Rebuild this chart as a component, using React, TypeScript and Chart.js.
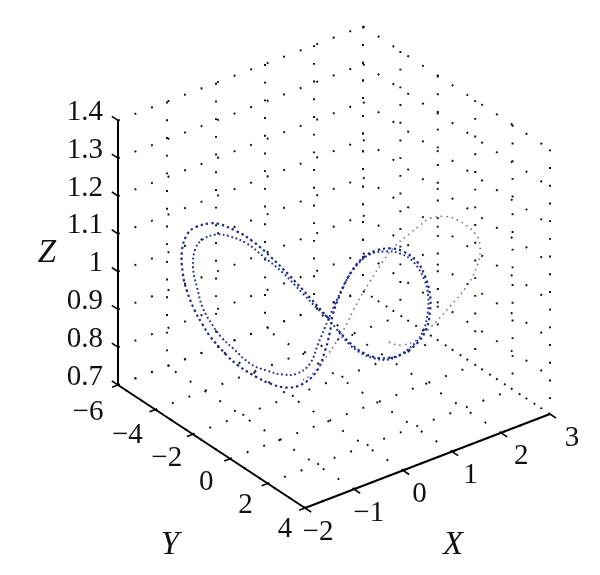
import React, { useEffect, useRef } from "react";
import { Chart, registerables } from "chart.js";

Chart.register(...registerables);

type P = [number, number, number];

// Axis ticks
const xTicks = [-2, -1, 0, 1, 2, 3];
const yTicks = [-6, -4, -2, 0, 2, 4];
const zTicks = [0.7, 0.8, 0.9, 1, 1.1, 1.2, 1.3, 1.4];

// Trajectory as [X, Y, Z]
const faintStart: P[] = [
  [0.11, 2.95, 1], [0.13, 3.14, 1], [0.22, 3.36, 1], [0.47, 3.41, 1], [0.98, 2.98, 1],
  [1.61, 2.31, 1], [2.22, 1.61, 1], [2.74, 0.78, 1], [2.42, 1.78, 1.1], [2.61, 1.01, 1.1],
  [2.65, 0.1, 1.1], [2.57, -0.43, 1.1], [2.32, -0.65, 1.1], [2.06, -0.48, 1.1], [1.77, -0.27, 1.1],
  [1.32, 0.1, 1.1], [0.87, 0.64, 1.1], [1.07, -0.55, 1], [0.71, -0.04, 1], [0.26, 0.65, 1],
  [-0.08, 1.2, 1], [-0.54, 1.88, 1], [-0.21, 0.49, 0.9], [-0.5, 0.87, 0.9], [-0.82, 1.18, 0.9],
  [-1.07, 1.29, 0.9],
];
const leftOuter: P[] = [
  [-0.2, 0.52, 1], [-0.04, -0.86, 1], [0.13, -2.39, 1], [-0.48, -1.85, 1.1], [-0.41, -2.95, 1.1],
  [-0.42, -3.78, 1.1], [-0.5, -4.48, 1.1], [-0.61, -4.72, 1.1], [-0.88, -4.81, 1.1], [-1.12, -4.61, 1.1],
  [-1.52, -3.84, 1.1], [-1.21, -4.6, 1], [-1.49, -3.65, 1], [-1.78, -2.46, 1], [-1.94, -1.65, 1],
  [-2.08, -0.88, 1], [-1.5, -1.48, 0.9], [-1.55, -0.75, 0.9], [-1.54, 0.24, 0.9], [-1.49, 0.81, 0.9],
  [-1.35, 1.35, 0.9], [-1.07, 1.46, 0.9], [-0.63, 1.06, 0.9], [-0.14, 0.2, 0.9], [-0.43, 1.23, 1],
  [-0.06, 0.41, 1],
];
const rightOuter: P[] = [
  [0.58, -0.73, 1], [1.08, -1.5, 1], [0.74, 0.02, 1.1], [1.01, -0.05, 1.1], [1.22, 0.11, 1.1],
  [1.33, 0.52, 1.1], [1.31, 1.31, 1.1], [1.87, 0.27, 1], [1.58, 1.3, 1], [1.25, 2.17, 1],
  [0.85, 3.02, 1], [0.46, 3.56, 1], [0.81, 1.89, 0.9], [0.56, 1.84, 0.9], [0.39, 1.58, 0.9],
  [0.31, 1.05, 0.9], [-0.41, 2.24, 1], [-0.3, 1.26, 1],
];
const leftInner: P[] = [
  [-0.2, 0.61, 1], [-0.15, -0.21, 1], [-0.05, -1.21, 1], [0.1, -2.68, 1], [-0.57, -1.98, 1.1],
  [-0.53, -2.97, 1.1], [-0.61, -3.66, 1.1], [-0.74, -4.02, 1.1], [-1.02, -4.04, 1.1], [-1.31, -3.68, 1.1],
  [-0.96, -4.71, 1], [-1.3, -3.6, 1], [-1.62, -2.46, 1], [-1.84, -1.34, 1], [-1.96, -0.54, 1],
  [-1.28, -1.72, 0.9], [-1.36, -0.61, 0.9], [-1.28, 0.08, 0.9], [-1.15, 0.6, 0.9], [-0.95, 0.82, 0.9],
  [-0.59, 0.57, 0.9], [-0.84, 1.66, 1], [-0.44, 0.97, 1], [0.06, 0.11, 1],
];
const rightInner: P[] = [
  [0.81, -1.11, 1], [1.24, -1.66, 1], [0.84, 0.02, 1.1], [1.12, 0.2, 1.1], [1.25, 0.56, 1.1],
  [1.26, 1.23, 1.1], [1.8, 0.41, 1], [1.52, 1.36, 1], [1.18, 2.23, 1], [0.77, 3.06, 1],
  [0.4, 3.55, 1], [0.75, 1.88, 0.9], [0.5, 1.9, 0.9], [0.35, 1.59, 0.9], [0.28, 1.08, 0.9],
  [-0.44, 2.27, 1], [-0.3, 1.19, 1], [-0.19, 0.38, 1],
];

// View of the 3-D box on the flat chart scales
const project = ([X, Y, Z]: P) => ({
  x: 305 + (X + 2) * 49 + (Y - 4) * 18.7,
  y: 508 - (X + 2) * 18.8 + (Y - 4) * 12.3 - (Z - 0.7) * 378,
});

const xMin = xTicks[0], xMax = xTicks[xTicks.length - 1];
const yMin = yTicks[0], yMax = yTicks[yTicks.length - 1];
const zMin = zTicks[0], zMax = zTicks[zTicks.length - 1];

const FONT = '"Liberation Serif", serif';
const INK = "#111111";

const gridLine = (a: P, b: P) => ({
  type: "line" as const,
  data: [a, b].map(project),
  borderColor: "#111111",
  borderWidth: 2,
  borderDash: [1.9, 15.8],
  pointRadius: 0,
  tension: 0,
  order: 10,
});

const inkLine = (a: P, b: P, width: number) => ({
  type: "line" as const,
  data: [a, b].map(project),
  borderColor: "#000000",
  borderWidth: width,
  pointRadius: 0,
  tension: 0,
  order: 0,
});

const strand = (pts: P[], color: string, width: number, dash: number[]) => ({
  type: "line" as const,
  data: pts.map(project),
  borderColor: color,
  borderWidth: width,
  borderDash: dash,
  pointRadius: 0,
  tension: 0.4,
  order: 1,
});

const labelPlugin = {
  id: "boxLabels",
  afterDraw(chart: any) {
    const { ctx, scales } = chart;
    const px = (p: P) => {
      const q = project(p);
      return [scales.x.getPixelForValue(q.x), scales.y.getPixelForValue(q.y)];
    };
    ctx.save();
    ctx.fillStyle = INK;
    ctx.textBaseline = "middle";
    ctx.font = `29px ${FONT}`;
    ctx.textAlign = "right";
    zTicks.forEach((z) => {
      const [a, b] = px([xMin, yMin, z]);
      ctx.fillText(String(z), a - 15, b - 8);
    });
    ctx.textAlign = "center";
    yTicks.forEach((y) => {
      const [a, b] = px([xMin, y, zMin]);
      ctx.fillText(String(y).replace("-", "\u2212"), a - 30 + (y + 6), b + 27 - (y + 6) * 0.6);
    });
    xTicks.forEach((x) => {
      const [a, b] = px([x, yMax, zMin]);
      ctx.fillText(String(x).replace("-", "\u2212"), a + 13 + (x + 2) * 1.8, b + 24);
    });
    ctx.font = `italic 33px ${FONT}`;
    ctx.fillText("Z", 47, 253);
    ctx.fillText("Y", 170, 545);
    ctx.fillText("X", 453, 545);
    ctx.restore();
  },
};

export default function App() {
  const ref = useRef<HTMLCanvasElement>(null);
  useEffect(() => {
    const datasets: any[] = [];
    // Back-wall and floor grid
    xTicks.forEach((x) => {
      datasets.push(gridLine([x, yMin, zMax], [x, yMin, zMin]));
      datasets.push(gridLine([x, yMax, zMin], [x, yMin, zMin]));
    });
    yTicks.forEach((y) => {
      datasets.push(gridLine([xMax, y, zMax], [xMax, y, zMin]));
      datasets.push(gridLine([xMin, y, zMin], [xMax, y, zMin]));
    });
    zTicks.forEach((z) => {
      datasets.push(gridLine([xMin, yMin, z], [xMax, yMin, z]));
      datasets.push(gridLine([xMax, yMin, z], [xMax, yMax, z]));
    });
    // Axes and ticks
    datasets.push(inkLine([xMin, yMin, zMin], [xMin, yMin, zMax], 2));
    datasets.push(inkLine([xMin, yMin, zMin], [xMin, yMax, zMin], 2));
    datasets.push(inkLine([xMin, yMax, zMin], [xMax, yMax, zMin], 2));
    zTicks.forEach((z) => datasets.push(inkLine([xMin, yMin, z], [xMin, yMin - 0.33, z], 1.6)));
    yTicks.forEach((y) => datasets.push(inkLine([xMin, y, zMin], [xMin - 0.12, y, zMin], 1.6)));
    xTicks.forEach((x) => datasets.push(inkLine([x, yMax, zMin], [x, yMax + 0.33, zMin], 1.6)));
    // Trajectory
    datasets.push(strand(faintStart, "#6464b8", 1.5, [1.5, 4]));
    datasets.push(strand([...leftOuter, ...rightOuter], "#1f2a8a", 2.2, [2.4, 3]));
    datasets.push(strand([...leftInner, ...rightInner], "#27328f", 2, [1.8, 2.6]));

    const chart = new Chart(ref.current as HTMLCanvasElement, {
      type: "line",
      data: { datasets },
      plugins: [labelPlugin],
      options: {
        responsive: false,
        animation: false,
        layout: { padding: 0 },
        plugins: { legend: { display: false }, tooltip: { enabled: false } },
        scales: {
          x: { type: "linear", display: false, min: 0, max: 600 },
          y: { type: "linear", display: false, min: 0, max: 575, reverse: true },
        },
      },
    } as any);
    return () => chart.destroy();
  }, []);
  return (
    <div style={{ position: "absolute", left: 0, top: 0, width: 600, height: 575, background: "#fff" }}>
      <canvas ref={ref} width={600} height={575} style={{ display: "block" }} />
    </div>
  );
}
